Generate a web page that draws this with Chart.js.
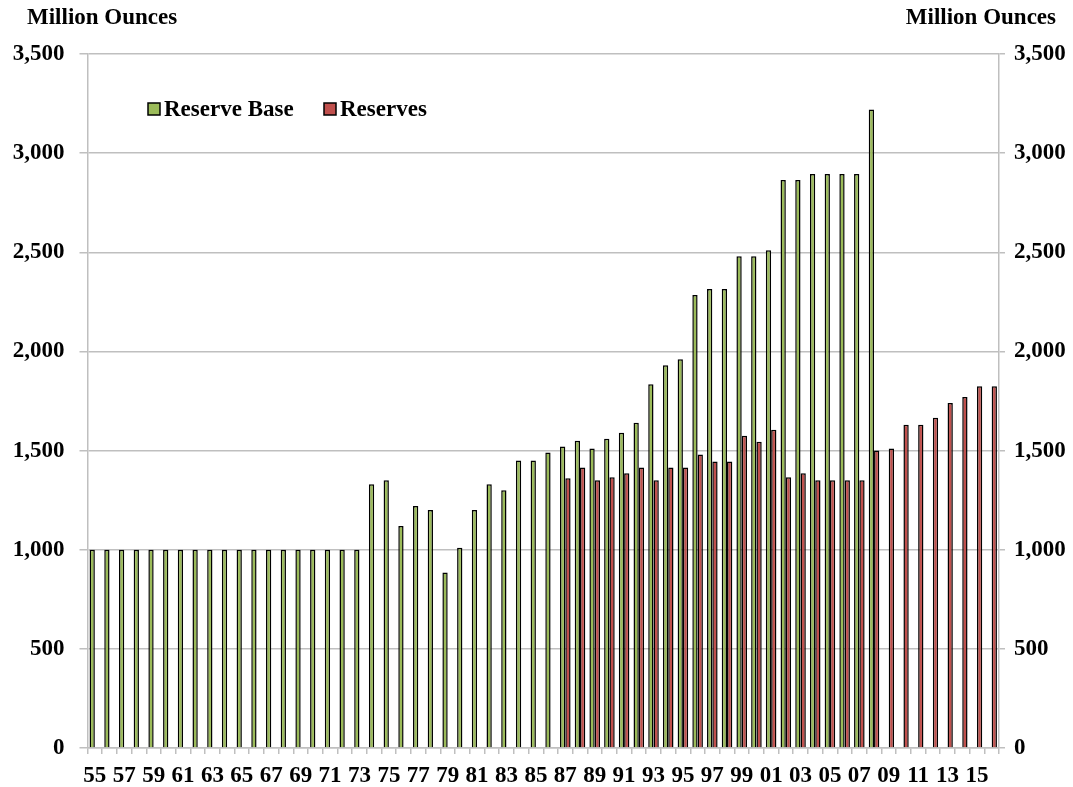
<!DOCTYPE html>
<html>
<head>
<meta charset="utf-8">
<script src="https://cdn.jsdelivr.net/npm/chart.js@4/dist/chart.umd.min.js"></script>
<style>
  html, body { margin: 0; padding: 0; background: #fff; }
  #wrap { position: relative; width: 1073px; height: 787px; }
</style>
</head>
<body>
<div id="wrap"><canvas id="c" width="1073" height="787"></canvas></div>
<script>
const categories = ['55','56','57','58','59','60','61','62','63','64','65','66','67','68','69','70','71','72','73','74',
  '75','76','77','78','79','80','81','82','83','84','85','86','87','88','89','90','91','92','93','94',
  '95','96','97','98','99','00','01','02','03','04','05','06','07','08','09','10','11','12','13','14','15','16'];

const reserveBase = [1000,1000,1000,1000,1000,1000,1000,1000,1000,1000,1000,1000,1000,1000,1000,1000,1000,1000,1000,
  1330,1350,1120,1220,1200,885,1010,1200,1330,1300,1450,1450,1490,1520,1550,1510,1560,1590,1640,1835,1930,1960,
  2285,2315,2315,2480,2480,2510,2865,2865,2895,2895,2895,2895,3220,
  null,null,null,null,null,null,null,null];

const reserves = [null,null,null,null,null,null,null,null,null,null,null,null,null,null,null,null,
  null,null,null,null,null,null,null,null,null,null,null,null,null,null,null,null,
  1360,1415,1350,1365,1385,1415,1350,1415,1415,1480,1445,1445,1575,1545,1605,1365,1385,1350,1350,1350,1350,1500,
  1510,1630,1630,1665,1740,1770,1825,1825];

const yTicks = [0,500,1000,1500,2000,2500,3000,3500];
const seriesNames = ['Reserve Base','Reserves'];
const axisTitle = 'Million Ounces';

const FONT = '"Liberation Serif", "Times New Roman", serif';
const FS = 23;
const GREEN = '#9BBB59', RED = '#C0504D', GRID = '#BFBFBF';

const overlay = {
  id: 'overlay',
  afterDraw(chart) {
    const ctx = chart.ctx;
    ctx.save();
    ctx.font = 'bold ' + FS + 'px ' + FONT;
    ctx.fillStyle = '#000';
    ctx.textBaseline = 'middle';
    ctx.textAlign = 'left';
    ctx.fillText(axisTitle, 27, 18);
    ctx.textAlign = 'right';
    ctx.fillText(axisTitle, 1056, 18);
    // legend
    ctx.textAlign = 'left';
    const items = [[seriesNames[0], GREEN, 148], [seriesNames[1], RED, 324]];
    items.forEach(([txt, col, x]) => {
      ctx.fillStyle = col;
      ctx.fillRect(x, 103, 12, 12);
      ctx.strokeStyle = '#000';
      ctx.lineWidth = 1.5;
      ctx.strokeRect(x, 103, 12, 12);
      ctx.fillStyle = '#000';
      ctx.fillText(txt, x + 16, 110);
    });
    ctx.restore();
  }
};

new Chart(document.getElementById('c'), {
  type: 'bar',
  data: {
    labels: categories,
    datasets: [
      { label: seriesNames[0], data: reserveBase, backgroundColor: GREEN, borderColor: '#000', borderWidth: 1.5,
        categoryPercentage: 0.72, barPercentage: 1.0, yAxisID: 'y' },
      { label: seriesNames[1], data: reserves, backgroundColor: RED, borderColor: '#000', borderWidth: 1.5,
        categoryPercentage: 0.72, barPercentage: 1.0, yAxisID: 'y' }
    ]
  },
  options: {
    responsive: false,
    animation: false,
    events: [],
    layout: { padding: { top: 54, left: 0, right: 0, bottom: 0 } },
    plugins: { legend: { display: false }, tooltip: { enabled: false } },
    scales: {
      x: {
        grid: { display: true, drawOnChartArea: false, drawTicks: true, tickLength: 6, color: GRID, lineWidth: 1.5, offset: true },
        border: { display: true, color: GRID, width: 1.5 },
        ticks: {
          autoSkip: false, maxRotation: 0, minRotation: 0, padding: 8, color: '#000',
          font: { family: FONT, size: FS, weight: 'bold' },
          callback: function(v, i) { return i % 2 === 0 ? categories[i] : ''; }
        },
        afterFit(scale) { scale.height = 39; }
      },
      y: {
        position: 'left', min: 0, max: 3500,
        afterBuildTicks(scale) { scale.ticks = yTicks.map(v => ({ value: v })); },
        grid: { color: GRID, lineWidth: 1.5, tickLength: 8, drawTicks: true },
        border: { display: true, color: GRID, width: 1.5 },
        ticks: {
          padding: 15, color: '#000',
          font: { family: FONT, size: FS, weight: 'bold' },
          callback: v => v.toLocaleString('en-US')
        },
        afterFit(scale) { scale.width = 87.5; }
      },
      y2: {
        position: 'right', min: 0, max: 3500,
        afterBuildTicks(scale) { scale.ticks = yTicks.map(v => ({ value: v })); },
        grid: { drawOnChartArea: false, color: GRID, lineWidth: 1.5, tickLength: 6, drawTicks: true },
        border: { display: true, color: GRID, width: 1.5 },
        ticks: {
          padding: 9, color: '#000',
          font: { family: FONT, size: FS, weight: 'bold' },
          callback: v => v.toLocaleString('en-US')
        },
        afterFit(scale) { scale.width = 74; }
      }
    }
  },
  plugins: [overlay]
});
</script>
</body>
</html>
